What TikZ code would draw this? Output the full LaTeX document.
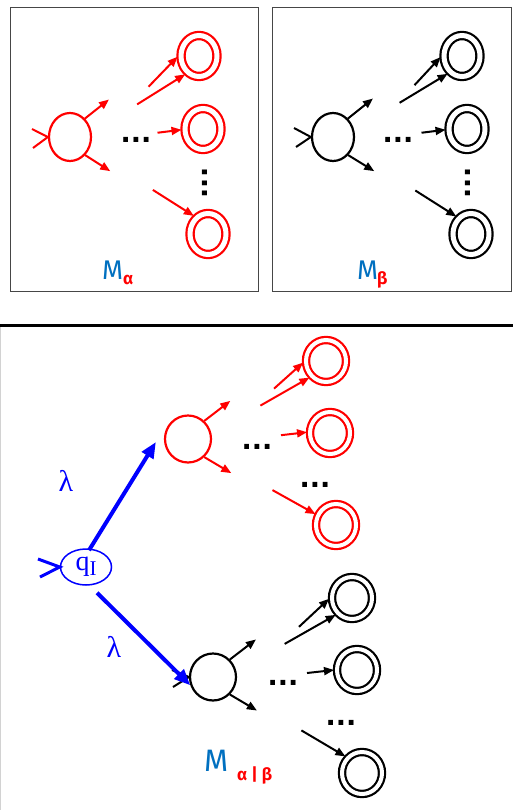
\documentclass[tikz,border=0pt]{standalone}
\usepackage{fontspec}
\setmainfont{Liberation Serif}
\newfontfamily\labfont{Fira Sans}
\newfontfamily\dotfont{DejaVu Sans}
\usetikzlibrary{shapes.geometric,arrows.meta,calc}
\definecolor{mblue}{RGB}{0,112,192}
\definecolor{qblue}{RGB}{0,0,255}
\definecolor{boxgray}{RGB}{70,70,70}
\begin{document}
\begin{tikzpicture}[x=1pt,y=-1pt,
  st/.style={ellipse,draw,line width=2.2pt,inner sep=0pt,minimum width=42pt,minimum height=48pt},
  stb/.style={ellipse,draw,line width=2.2pt,inner sep=0pt,minimum width=46pt,minimum height=47pt},
  acc/.style={ellipse,draw,double=white,double distance=5pt,line width=2.2pt,inner sep=0pt,outer sep=3.5pt,minimum width=36pt,minimum height=41pt},
  accb/.style={ellipse,draw,double=white,double distance=4pt,line width=2.2pt,inner sep=0pt,outer sep=3pt,minimum width=40pt,minimum height=42pt},
  ar/.style={line width=2pt,-{Triangle[length=10pt,width=8pt]}},
  bar/.style={qblue,line width=4pt,-{Triangle[length=16pt,width=13pt]}},
  chev/.style={line width=2pt},
  dts/.style={font=\dotfont\bfseries\fontsize{27}{27}\selectfont,inner sep=0pt,anchor=base},
  mlab/.style={font=\labfont\fontsize{27}{27}\selectfont,text=mblue,inner sep=0pt,anchor=base west},
  sublab/.style={font=\labfont\bfseries\fontsize{17}{17}\selectfont,text=red,inner sep=0pt,anchor=base west},
  lam/.style={font=\fontsize{30}{30}\selectfont,text=qblue,inner sep=0pt}
]
\useasboundingbox (0,0) rectangle (513,810);
\fill[white] (0,0) rectangle (513,810);

% ---------- frames ----------
\draw[boxgray,line width=1pt] (10,8) rectangle (258,291);
\draw[boxgray,line width=1pt] (272,8) rectangle (511,291);
\draw[line width=3pt] (0,325) -- (513,325);
\draw[gray!35,line width=1pt] (0.5,327) -- (0.5,810);

% ---------- M alpha ----------
\node[st,red] (s1) at (70,137) {};
\draw[chev,red] (32,129) -- (s1.west) -- (33,148);
\draw[ar,red] (s1.51) -- ++(24,-19);
\draw[ar,red] (s1.-50) -- ++(25,16);
\node[dts] at (136,143) {...};
\node[acc,red] (f1) at (199,56) {};
\node[acc,red] (f2) at (203,129) {};
\node[acc,red] (f3) at (208,234) {};
\draw[ar,red] ($(f1.182)+(-29,30)$) -- (f1.182);
\draw[ar,red] ($(f1.233)+(-48,30)$) -- (f1.233);
\draw[ar,red] ($(f2.182)+(-24,3)$) -- (f2.182);
\draw[ar,red] ($(f3.128)+(-41,-26)$) -- (f3.128);
\node[dts,rotate=90] at (207,183) {...};
\node[mlab] (ma) at (102,279) {M};
\node[sublab] (mas) at (123,284) {α};

% ---------- M beta ----------
\node[st] (s2) at (333,137) {};
\draw[chev] (294,128) -- (s2.west) -- (296,147);
\draw[ar] (s2.51) -- ++(25,-20);
\draw[ar] (s2.-50) -- ++(26,16);
\node[dts] at (398,143) {...};
\node[acc] (g1) at (462,56) {};
\node[acc] (g2) at (467,129) {};
\node[acc] (g3) at (471,234) {};
\draw[ar] ($(g1.183)+(-26,28)$) -- (g1.183);
\draw[ar] ($(g1.231)+(-48,29)$) -- (g1.231);
\draw[ar] ($(g2.182)+(-24,3)$) -- (g2.182);
\draw[ar] ($(g3.130)+(-41,-26)$) -- (g3.130);
\node[dts,rotate=90] at (470,183) {...};
\node[mlab] (mb) at (357,279) {M};
\node[sublab] (mbs) at (377,284) {β};

% ---------- lower: red part ----------
\node[stb,red] (r0) at (188,439) {};
\draw[ar,red] (r0.48) -- ++(26,-20);
\draw[ar,red] (r0.-48) -- ++(27,16);
\node[dts] at (257,449) {...};
\node[accb,red] (r1) at (326,361) {};
\node[accb,red] (r2) at (330,433) {};
\node[accb,red] (r3) at (336,525) {};
\draw[ar,red] ($(r1.184)+(-29,26)$) -- (r1.184);
\draw[ar,red] ($(r1.225)+(-49,28)$) -- (r1.225);
\draw[ar,red] ($(r2.178)+(-26,3)$) -- (r2.178);
\draw[ar,red] ($(r3.152)+(-43,-24)$) -- (r3.152);
\node[dts] at (315,487) {...};

% ---------- lower: black part ----------
\node[stb] (b0) at (213,677) {};
\draw[chev] (172,670) -- (b0.west) -- (173,687);
\draw[ar] (b0.46) -- ++(26,-20);
\draw[ar] (b0.-46) -- ++(27,16);
\node[dts] at (283,685) {...};
\node[accb] (b1) at (352,598) {};
\node[accb] (b2) at (357,670) {};
\node[accb] (b3) at (362,773) {};
\draw[ar] ($(b1.182)+(-30,28)$) -- (b1.182);
\draw[ar] ($(b1.226)+(-51,29)$) -- (b1.226);
\draw[ar] ($(b2.180)+(-27,3)$) -- (b2.180);
\draw[ar] ($(b3.135)+(-44,-26)$) -- (b3.135);
\node[dts] at (341,725) {...};

% ---------- new start state ----------
\node[ellipse,draw=qblue,line width=1.5pt,minimum width=51pt,minimum height=36pt,inner sep=0pt,text=qblue,font=\fontsize{28}{28}\selectfont] (q) at (86,567) {q\raisebox{-5pt}{\fontsize{21}{21}\selectfont I}};
\draw[qblue,line width=3pt] (38,559) -- (q.west) -- (40,577);
\draw[bar] ($(q.north)+(3,2)$) -- ($(r0.west)+(-8,3)$);
\draw[bar] ($(q.south)+(11,7)$) -- (b0.200);
\node[lam] (l1) at (66,481) {λ};
\node[lam] (l2) at (114,647) {λ};

\node[mlab,font=\labfont\fontsize{31}{31}\selectfont] (mc) at (204,771) {M};
\node[sublab] (mcs) at (237,780) {α | β};
\end{tikzpicture}
\end{document}
